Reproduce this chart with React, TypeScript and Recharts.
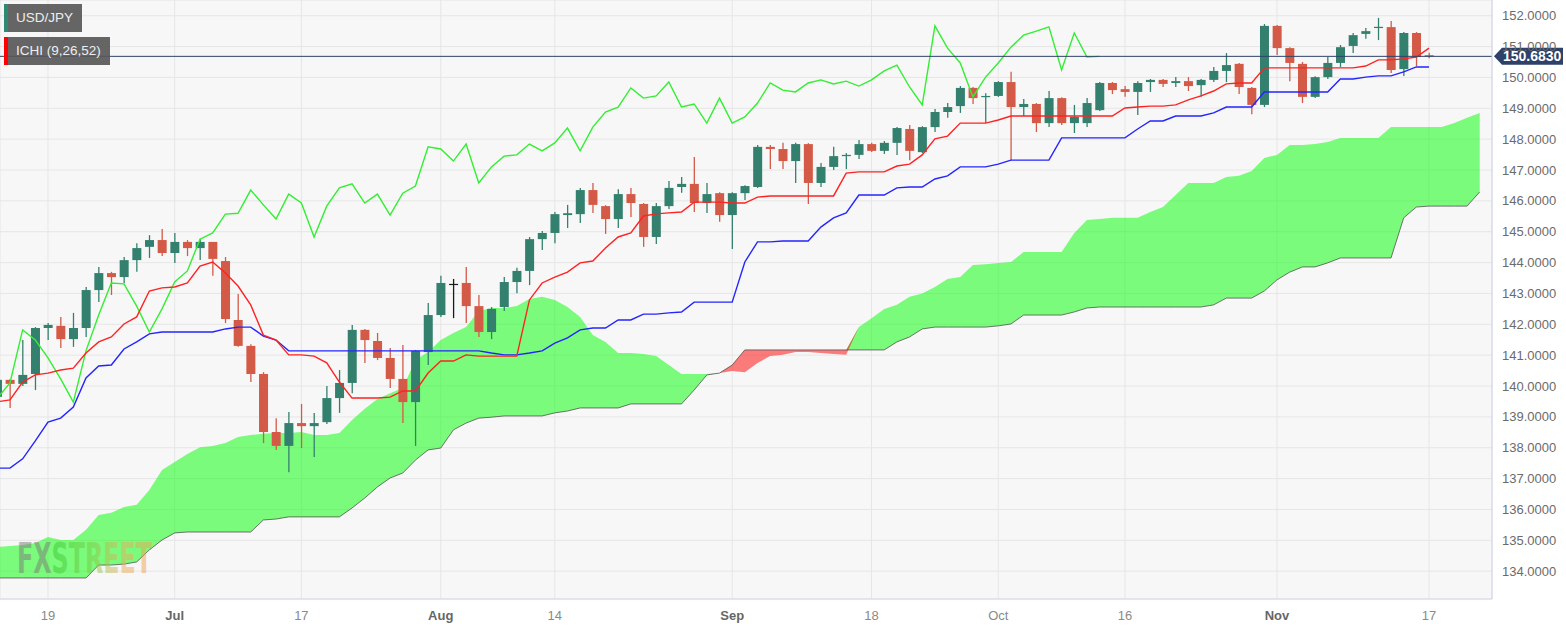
import React from 'react';
import {
  ComposedChart,
  Bar,
  Line,
  Area,
  XAxis,
  YAxis,
  CartesianGrid,
  ReferenceLine,
} from 'recharts';

// ---------- data (daily USD/JPY, Ichimoku 9/26/52) ----------
const opens = [
  139.65, 140.2, 140.07, 140.39, 141.88, 141.95, 141.52, 141.88, 143.11, 143.66,
  143.53, 144.08, 144.51, 144.73, 144.31, 144.67, 144.47, 144.67, 144.05, 142.14,
  141.3, 140.39, 138.51, 138.06, 138.8, 138.7, 138.83, 139.61, 140.1, 141.82,
  141.46, 140.91, 140.23, 139.48, 141.1, 142.3, 143.31, 143.34, 142.59, 141.75,
  142.56, 143.37, 143.73, 144.76, 144.96, 145.54, 145.57, 146.35, 145.83, 145.41,
  146.22, 145.9, 144.83, 145.83, 146.45, 146.55, 145.93, 146.25, 145.54, 146.25,
  146.45, 147.75, 147.68, 147.29, 147.84, 146.58, 147.1, 147.45, 147.49, 147.84,
  147.62, 147.88, 148.33, 147.58, 148.39, 148.88, 149.07, 149.66, 149.36, 149.4,
  149.85, 149.04, 149.14, 148.52, 149.33, 148.52, 148.52, 148.94, 149.82, 149.62,
  149.53, 149.85, 149.92, 149.82, 149.88, 149.75, 149.92, 150.21, 150.44, 149.66,
  149.11, 151.67, 150.95, 150.44, 149.37, 150.01, 150.47, 151.02, 151.41, 151.6,
  151.63, 150.27, 151.44, 150.72,
];
const highs = [
  140.33, 140.23, 141.49, 141.91, 142.04, 142.24, 142.37, 143.21, 143.86, 143.7,
  144.18, 144.63, 144.89, 145.09, 144.96, 144.73, 144.77, 144.67, 144.18, 142.98,
  141.35, 140.45, 138.96, 139.16, 139.42, 139.13, 140.0, 140.52, 141.98, 141.85,
  141.72, 141.23, 141.33, 141.17, 142.69, 143.57, 143.47, 143.86, 142.95, 142.56,
  143.53, 143.83, 144.83, 145.02, 145.64, 145.87, 146.42, 146.58, 145.86, 146.38,
  146.42, 145.93, 145.93, 146.64, 146.77, 147.42, 146.58, 146.28, 146.28, 146.51,
  147.81, 147.81, 147.88, 147.88, 147.87, 147.23, 147.75, 147.55, 147.97, 147.88,
  147.94, 148.39, 148.46, 148.42, 148.98, 149.17, 149.72, 149.69, 149.49, 149.88,
  150.18, 149.3, 149.17, 149.56, 149.36, 149.11, 149.33, 149.85, 149.85, 149.72,
  149.88, 149.95, 149.95, 150.01, 150.01, 149.95, 150.34, 150.79, 150.47, 149.69,
  151.73, 151.7, 150.98, 150.5, 150.04, 150.66, 151.05, 151.44, 151.6, 151.93,
  151.83, 151.47, 151.47, 150.8,
];
const lows = [
  139.55, 139.29, 140.0, 139.87, 141.49, 141.23, 141.27, 141.59, 142.72, 142.95,
  143.34, 143.7, 144.15, 144.21, 143.99, 144.21, 144.08, 143.57, 142.04, 141.27,
  140.13, 138.15, 137.93, 137.21, 137.99, 137.7, 138.77, 139.13, 139.77, 140.75,
  140.84, 139.94, 138.8, 138.06, 140.68, 142.24, 142.2, 142.04, 141.59, 141.52,
  142.43, 143.01, 143.27, 144.41, 144.63, 145.12, 145.28, 145.61, 144.93, 145.12,
  145.48, 144.51, 144.6, 145.74, 146.26, 145.64, 145.61, 145.32, 144.44, 146.03,
  146.42, 147.03, 147.03, 146.58, 145.9, 146.45, 147.0, 147.03, 147.36, 147.58,
  147.52, 147.49, 147.32, 147.55, 148.23, 148.69, 148.85, 149.14, 148.52, 149.37,
  147.32, 148.75, 148.23, 148.39, 148.46, 148.2, 148.39, 148.91, 149.46, 149.37,
  148.78, 149.53, 149.69, 149.69, 149.56, 149.37, 149.85, 149.85, 149.46, 148.81,
  149.04, 150.73, 149.88, 149.17, 149.33, 149.95, 150.34, 150.79, 151.25, 151.21,
  150.14, 150.05, 150.37, 150.62,
];
const closes = [
  140.2, 140.07, 140.36, 141.88, 141.98, 141.52, 141.88, 143.11, 143.66, 143.53,
  144.08, 144.47, 144.73, 144.31, 144.67, 144.47, 144.67, 144.12, 142.17, 141.3,
  140.39, 138.51, 138.06, 138.8, 138.7, 138.8, 139.61, 140.1, 141.82, 141.49,
  140.91, 140.23, 139.48, 141.14, 142.3, 143.34, 143.31, 142.59, 141.75, 142.5,
  143.37, 143.73, 144.76, 144.96, 145.57, 145.6, 146.35, 145.87, 145.41, 146.22,
  145.93, 144.83, 145.83, 146.42, 146.55, 145.93, 146.22, 145.54, 146.25, 146.48,
  147.75, 147.68, 147.29, 147.84, 146.58, 147.1, 147.45, 147.49, 147.84, 147.62,
  147.88, 148.36, 147.62, 148.39, 148.88, 149.04, 149.66, 149.33, 149.4, 149.85,
  149.04, 149.14, 148.52, 149.33, 148.52, 148.72, 149.17, 149.82, 149.59, 149.53,
  149.82, 149.92, 149.79, 149.88, 149.72, 149.92, 150.21, 150.4, 149.69, 149.11,
  151.67, 150.95, 150.47, 149.37, 150.01, 150.47, 150.98, 151.37, 151.5, 151.64,
  150.24, 151.44, 150.66, 150.683,
];
const tenkan = [
  139.49, 139.55, 140.13, 140.36, 140.42, 140.52, 140.58, 141.07, 141.43, 141.59,
  142.01, 142.24, 143.08, 143.18, 143.21, 143.34, 143.89, 144.02, 143.66, 143.24,
  142.63, 141.65, 141.49, 141.01, 141.01, 140.97, 140.75, 140.13, 139.61, 139.61,
  139.61, 139.64, 139.84, 139.84, 140.42, 140.81, 140.81, 141.01, 140.97, 140.97,
  140.97, 140.97, 142.79, 143.34, 143.53, 143.69, 143.99, 144.05, 144.47, 144.83,
  144.96, 145.51, 145.58, 145.61, 145.64, 145.96, 145.96, 145.96, 145.93, 145.93,
  146.12, 146.16, 146.16, 146.16, 146.16, 146.16, 146.16, 146.9, 146.94, 146.94,
  146.94, 147.13, 147.19, 147.49, 148.01, 148.1, 148.52, 148.52, 148.52, 148.62,
  148.75, 148.75, 148.75, 148.75, 148.75, 148.75, 148.75, 148.75, 148.75, 149.01,
  149.04, 149.07, 149.07, 149.11, 149.27, 149.4, 149.56, 149.79, 149.82, 149.82,
  150.31, 150.31, 150.31, 150.31, 150.31, 150.31, 150.31, 150.31, 150.37, 150.57,
  150.57, 150.6, 150.66, 150.95,
];
const kijun = [
  137.34, 137.34, 137.64, 138.22, 138.83, 138.96, 139.32, 140.26, 140.65, 140.68,
  141.2, 141.43, 141.69, 141.75, 141.75, 141.75, 141.75, 141.75, 141.85, 141.91,
  141.91, 141.62, 141.49, 141.14, 141.14, 141.14, 141.14, 141.14, 141.14, 141.14,
  141.14, 141.14, 141.14, 141.14, 141.14, 141.14, 141.14, 141.14, 141.14, 141.07,
  141.01, 141.01, 141.07, 141.14, 141.39, 141.56, 141.82, 141.88, 141.88, 142.14,
  142.14, 142.33, 142.33, 142.37, 142.4, 142.72, 142.72, 142.72, 142.72, 144.02,
  144.67, 144.67, 144.7, 144.7, 144.7, 145.15, 145.45, 145.61, 146.19, 146.19,
  146.19, 146.42, 146.45, 146.45, 146.71, 146.81, 147.1, 147.1, 147.1, 147.19,
  147.32, 147.32, 147.32, 147.32, 148.04, 148.04, 148.04, 148.04, 148.04, 148.04,
  148.33, 148.59, 148.59, 148.75, 148.75, 148.75, 148.85, 149.04, 149.04, 149.04,
  149.53, 149.53, 149.53, 149.53, 149.53, 149.53, 149.95, 149.95, 150.01, 150.05,
  150.05, 150.18, 150.34, 150.34,
];
const spanA = [
  134.78, 134.82, 134.85, 134.91, 135.11, 135.01, 135.01, 135.34, 135.82, 135.89,
  136.08, 136.15, 136.63, 137.28, 137.54, 137.8, 138.02, 138.06, 138.15, 138.35,
  138.41, 138.45, 138.48, 138.48, 138.51, 138.41, 138.41, 138.48, 138.9, 139.26,
  139.58, 139.77, 139.94, 140.84, 141.1, 141.49, 141.72, 141.91, 142.43, 142.53,
  142.53, 142.59, 142.82, 142.89, 142.79, 142.56, 142.24, 141.65, 141.43, 141.07,
  141.07, 141.04, 140.97, 140.68, 140.39, 140.39, 140.39, 140.42, 140.49, 140.45,
  140.75, 140.97, 141.01, 141.1, 141.1, 141.07, 141.04, 141.01, 141.91, 142.2,
  142.5, 142.63, 142.89, 143.0, 143.21, 143.47, 143.53, 143.92, 143.95, 143.99,
  144.02, 144.34, 144.34, 144.34, 144.34, 144.96, 145.38, 145.41, 145.45, 145.45,
  145.45, 145.64, 145.8, 146.19, 146.58, 146.58, 146.58, 146.77, 146.81, 146.97,
  147.39, 147.49, 147.81, 147.81, 147.84, 147.91, 148.04, 148.04, 148.04, 148.04,
  148.39, 148.39, 148.39, 148.39, 148.39, 148.52, 148.69, 148.85,
];
const spanB = [
  133.78, 133.78, 133.78, 133.78, 133.78, 133.78, 133.78, 133.78, 134.2, 134.2,
  134.23, 134.3, 134.69, 135.01, 135.24, 135.27, 135.27, 135.27, 135.27, 135.27,
  135.27, 135.66, 135.69, 135.76, 135.76, 135.76, 135.76, 135.76, 136.05, 136.37,
  136.73, 137.02, 137.18, 137.6, 137.93, 137.99, 138.58, 138.8, 138.96, 138.99,
  139.03, 139.03, 139.03, 139.03, 139.13, 139.19, 139.29, 139.29, 139.29, 139.29,
  139.42, 139.42, 139.42, 139.42, 139.42, 139.87, 140.36, 140.42, 140.68, 141.17,
  141.17, 141.17, 141.17, 141.17, 141.17, 141.17, 141.17, 141.17, 141.17, 141.17,
  141.17, 141.43, 141.59, 141.85, 141.91, 141.91, 141.91, 141.91, 141.91, 141.95,
  142.01, 142.3, 142.3, 142.3, 142.3, 142.4, 142.53, 142.56, 142.56, 142.56,
  142.56, 142.56, 142.56, 142.56, 142.56, 142.56, 142.63, 142.85, 142.85, 142.85,
  143.08, 143.44, 143.69, 143.86, 143.86, 143.99, 144.15, 144.15, 144.15, 144.15,
  144.15, 145.45, 145.8, 145.83, 145.83, 145.83, 145.83, 146.29,
];
const chikouShift = 26;
const lastPrice = 150.683;

const xTickIndex = [4, 14, 24, 35, 44, 58, 69, 79, 89, 101, 113];
const xTickLabels = ['19', 'Jul', '17', 'Aug', '14', 'Sep', '18', 'Oct', '16', 'Nov', '17'];
const boldLabels = ['Jul', 'Aug', 'Sep', 'Nov'];
const yTicks = [134, 135, 136, 137, 138, 139, 140, 141, 142, 143, 144, 145, 146, 147, 148, 149, 150, 151, 152];

// ---------- styling ----------
const UP = '#34806e';
const DOWN = '#d45a48';
const FONT = '"Liberation Sans", Arial, Helvetica, sans-serif';

const data = spanA.map((a, i) => {
  const b = spanB[i];
  const has = i < opens.length;
  const hi = Math.max(a, b);
  return {
    i,
    o: has ? opens[i] : null,
    h: has ? highs[i] : null,
    l: has ? lows[i] : null,
    c: has ? closes[i] : null,
    range: has ? [lows[i], highs[i]] : null,
    tenkan: i < tenkan.length ? tenkan[i] : null,
    kijun: i < kijun.length ? kijun[i] : null,
    chikou: i + chikouShift < closes.length ? closes[i + chikouShift] : null,
    b,
    green: [b, hi],
    red: [a, hi],
  };
});

const Candle = (props: any) => {
  const { x, y, width, height, payload } = props;
  if (!payload || payload.o == null || !isFinite(y) || !isFinite(height)) return null;
  const { o, c, h, l } = payload;
  const top = Math.min(y, y + height);
  const bot = Math.max(y, y + height);
  const span = h - l || 1;
  const k = (bot - top) / span;
  const yOf = (v: number) => top + (h - v) * k;
  const cx = x + width / 2;
  const color = o === c ? '#1a1a1a' : c > o ? UP : DOWN;
  const bTop = yOf(Math.max(o, c));
  const bBot = yOf(Math.min(o, c));
  return (
    <g>
      <line x1={cx} x2={cx} y1={top} y2={bot} stroke={color} strokeWidth={1.3} />
      <rect x={x} y={bTop} width={width} height={Math.max(1.2, bBot - bTop)} fill={color} />
    </g>
  );
};

const XTick = (props: any) => {
  const { x, y, payload } = props;
  const idx = xTickIndex.indexOf(payload.value);
  const label = idx >= 0 ? xTickLabels[idx] : '';
  const bold = boldLabels.includes(label);
  return (
    <text
      x={x}
      y={y + 21}
      textAnchor="middle"
      fontSize={13}
      fontFamily={FONT}
      fontWeight={bold ? 700 : 400}
      fill={bold ? '#666' : '#8a8a8a'}
    >
      {label}
    </text>
  );
};

const YTick = (props: any) => {
  const { x, y, payload } = props;
  return (
    <text x={x + 10} y={y} dy={4.6} textAnchor="start" fontSize={13} fontFamily={FONT} fill="#6b6b6b">
      {Number(payload.value).toFixed(4)}
    </text>
  );
};

const PriceTag = (props: any) => {
  const vb = props.viewBox || {};
  const right = (vb.x || 0) + (vb.width || 0);
  const cy = vb.y || 0;
  const x0 = right + 2;
  const x1 = right + 10;
  const x2 = right + 71;
  const hh = 8.5;
  return (
    <g>
      <path
        d={`M${x0},${cy} L${x1},${cy - hh} L${x2},${cy - hh} L${x2},${cy + hh} L${x1},${cy + hh} Z`}
        fill="#2d4169"
      />
      <text x={x1 + 1} y={cy} dy={5} fontSize={14} fontWeight={700} fontFamily={FONT} fill="#ffffff">
        {lastPrice.toFixed(4)}
      </text>
    </g>
  );
};

const legendBox = (top: number, width: number, strip: string): React.CSSProperties => ({
  position: 'absolute',
  left: 4,
  top,
  width,
  height: 28,
  boxSizing: 'border-box',
  background: 'rgba(88,88,88,0.92)',
  borderLeft: `4px solid ${strip}`,
  color: '#eeeeee',
  fontFamily: FONT,
  fontSize: 13.5,
  lineHeight: '28px',
  paddingLeft: 8,
  whiteSpace: 'nowrap',
});

export default function App() {
  return (
    <div style={{ position: 'absolute', left: 0, top: 0, width: 1566, height: 631, background: '#ffffff', overflow: 'hidden' }}>
      <ComposedChart width={1566} height={631} data={data} margin={{ top: 0, right: 0, bottom: 0, left: 0 }}>
        <CartesianGrid stroke="#e6e6e6" fill="#f7f7f7" />
        <XAxis
          dataKey="i"
          type="number"
          domain={[0.213, 117.97]}
          allowDataOverflow
          ticks={xTickIndex}
          interval={0}
          tickLine={false}
          tickSize={0}
          tickMargin={0}
          height={32}
          axisLine={{ stroke: '#d3d8ec' }}
          tick={<XTick />}
        />
        <YAxis
          orientation="right"
          type="number"
          domain={[133.099, 152.509]}
          allowDataOverflow
          ticks={yTicks}
          interval={0}
          width={74}
          tickLine={false}
          tickSize={0}
          tickMargin={0}
          axisLine={{ stroke: '#cdd4ec' }}
          tick={<YTick />}
        />
        <Bar dataKey="range" barSize={9} shape={<Candle />} isAnimationActive={false} />
        <Line dataKey="chikou" stroke="#33ee33" strokeWidth={1.4} dot={false} activeDot={false} isAnimationActive={false} type="linear" />
        <Line dataKey="kijun" stroke="#2424ff" strokeWidth={1.4} dot={false} activeDot={false} isAnimationActive={false} type="linear" />
        <Line dataKey="tenkan" stroke="#ff2222" strokeWidth={1.4} dot={false} activeDot={false} isAnimationActive={false} type="linear" />
        <Area dataKey="green" type="linear" stroke="none" fill="#00ff00" fillOpacity={0.5} isAnimationActive={false} activeDot={false} />
        <Area dataKey="red" type="linear" stroke="none" fill="#ff0000" fillOpacity={0.5} isAnimationActive={false} activeDot={false} />
        <Line dataKey="b" stroke="#4a4a4a" strokeOpacity={0.75} strokeWidth={1} dot={false} activeDot={false} isAnimationActive={false} type="linear" />
        <ReferenceLine y={lastPrice} stroke="#2d4169" strokeWidth={1} ifOverflow="visible" label={(p: any) => <PriceTag {...p} />} />
      </ComposedChart>

      <svg width={1566} height={631} style={{ position: 'absolute', left: 0, top: 0, pointerEvents: 'none' }}>
        <defs>
          <linearGradient id="fxg" gradientUnits="userSpaceOnUse" x1={17} y1={0} x2={152} y2={0}>
            <stop offset="0" stopColor="#7a7a7a" />
            <stop offset="0.25" stopColor="#7a7a7a" />
            <stop offset="0.26" stopColor="#38c838" />
            <stop offset="0.55" stopColor="#7ccc48" />
            <stop offset="0.78" stopColor="#e8b060" />
            <stop offset="1" stopColor="#f0a050" />
          </linearGradient>
        </defs>
        <text
          x={17}
          y={573}
          fontSize={43}
          fontWeight={700}
          fontFamily='"DejaVu Sans Condensed", "DejaVu Sans", sans-serif'
          fill="url(#fxg)"
          opacity={0.5}
          textLength={135}
          lengthAdjust="spacingAndGlyphs"
        >
          FXSTREET
        </text>
      </svg>

      <div style={legendBox(4, 78, '#2f8a72')}>USD/JPY</div>
      <div style={legendBox(37, 106, '#ff0000')}>ICHI (9,26,52)</div>
    </div>
  );
}
